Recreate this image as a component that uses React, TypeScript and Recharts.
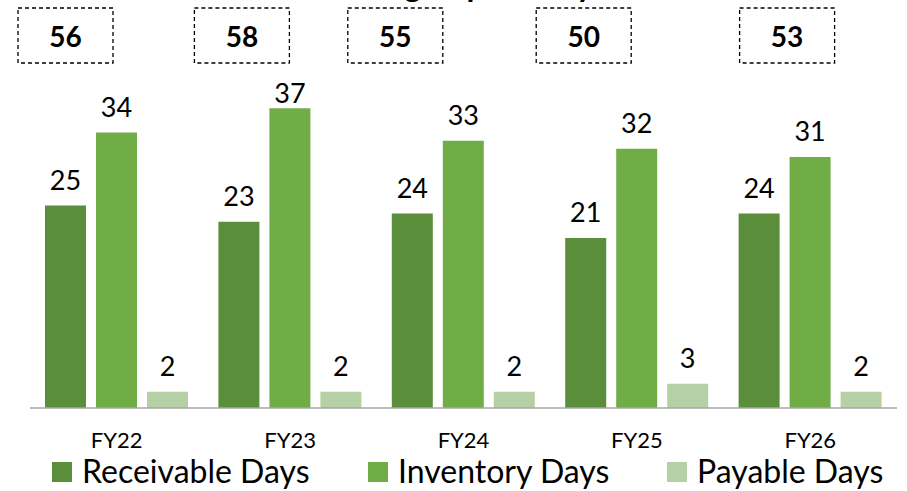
import React from "react";
import { BarChart, Bar, XAxis, YAxis, LabelList, Legend, Customized } from "recharts";

const categories = ["FY22", "FY23", "FY24", "FY25", "FY26"];
const receivableDays = [25, 23, 24, 21, 24];
const inventoryDays = [34, 37, 33, 32, 31];
const payableDays = [2, 2, 2, 3, 2];
const cycleDays = [56, 58, 55, 50, 53];
const seriesNames = ["Receivable Days", "Inventory Days", "Payable Days"];
const chartTitle = "Working Capital Days";

const BOX_NUDGE = [0, 3, -17, -2, 28];
const COLORS = ["#5B8E3B", "#70AD47", "#B4D0A4"];
const FONT = "Lato, 'Open Sans', sans-serif";

const data = categories.map((c, i) => ({
  name: c,
  receivable: receivableDays[i],
  inventory: inventoryDays[i],
  payable: payableDays[i],
  total: cycleDays[i],
}));

const BoxLabel = (props: any) => {
  const { x, width, index, value } = props;
  const cx = Number(x) + Number(width) / 2 + (BOX_NUDGE[index] || 0);
  const w = 95;
  const h = 55;
  return (
    <g>
      <rect x={cx - w / 2} y={8} width={w} height={h} fill="none" stroke="#000" strokeWidth={1.3} strokeDasharray="4 3" />
      <text x={cx} y={36} textAnchor="middle" dominantBaseline="central" fontFamily={FONT} fontWeight={700} fontSize={28} fill="#000">
        {value}
      </text>
    </g>
  );
};

const ValueLabel = (props: any) => {
  const { x, y, width, value } = props;
  const cx = Number(x) + Number(width) / 2;
  const baseline = Math.max(Number(y) - 16, 103);
  return (
    <text x={cx} y={baseline} textAnchor="middle" fontFamily={FONT} fontSize={27} fill="#000">
      {value}
    </text>
  );
};

const LegendContent = () => {
  const xs = [52, 368, 667];
  return (
    <svg width={907} height={46} style={{ display: "block" }}>
      {seriesNames.map((n, i) => (
        <g key={n}>
          <rect x={xs[i]} y={17} width={20} height={20} fill={COLORS[i]} />
          <text x={xs[i] + 30} y={38} fontFamily={FONT} fontSize={32} fill="#000">
            {n}
          </text>
        </g>
      ))}
    </svg>
  );
};

const Title = () => (
  <text x={453} y={-3} textAnchor="middle" fontFamily={FONT} fontWeight={700} fontSize={32} fill="#000">
    {chartTitle}
  </text>
);

export default function App() {
  return (
    <div style={{ position: "absolute", left: 0, top: 0, width: 907, height: 491, background: "#fff" }}>
      <BarChart
        width={907}
        height={491}
        data={data}
        margin={{ top: 84, right: 10, left: 30, bottom: 0 }}
        barGap={10}
        barCategoryGap={15}
        style={{ overflow: "visible" }}
      >
        <XAxis
          dataKey="name"
          tickLine={false}
          axisLine={{ stroke: "#A6A6A6", strokeWidth: 1.3 }}
          tick={{ fontFamily: FONT, fontSize: 22, fill: "#000" }}
          tickMargin={18}
          height={37}
        />
        <YAxis hide domain={[0, 40]} />
        <Legend
          verticalAlign="bottom"
          height={38}
          content={<LegendContent />}
          wrapperStyle={{ left: 0, bottom: 0, width: 907, height: 46 }}
        />
        <Bar dataKey="receivable" name={seriesNames[0]} fill={COLORS[0]} barSize={41} isAnimationActive={false}>
          <LabelList dataKey="receivable" content={<ValueLabel />} />
          <LabelList dataKey="total" content={<BoxLabel />} />
        </Bar>
        <Bar dataKey="inventory" name={seriesNames[1]} fill={COLORS[1]} barSize={41} isAnimationActive={false}>
          <LabelList dataKey="inventory" content={<ValueLabel />} />
        </Bar>
        <Bar dataKey="payable" name={seriesNames[2]} fill={COLORS[2]} barSize={41} isAnimationActive={false}>
          <LabelList dataKey="payable" content={<ValueLabel />} />
        </Bar>
        <Customized component={Title} />
      </BarChart>
    </div>
  );
}
